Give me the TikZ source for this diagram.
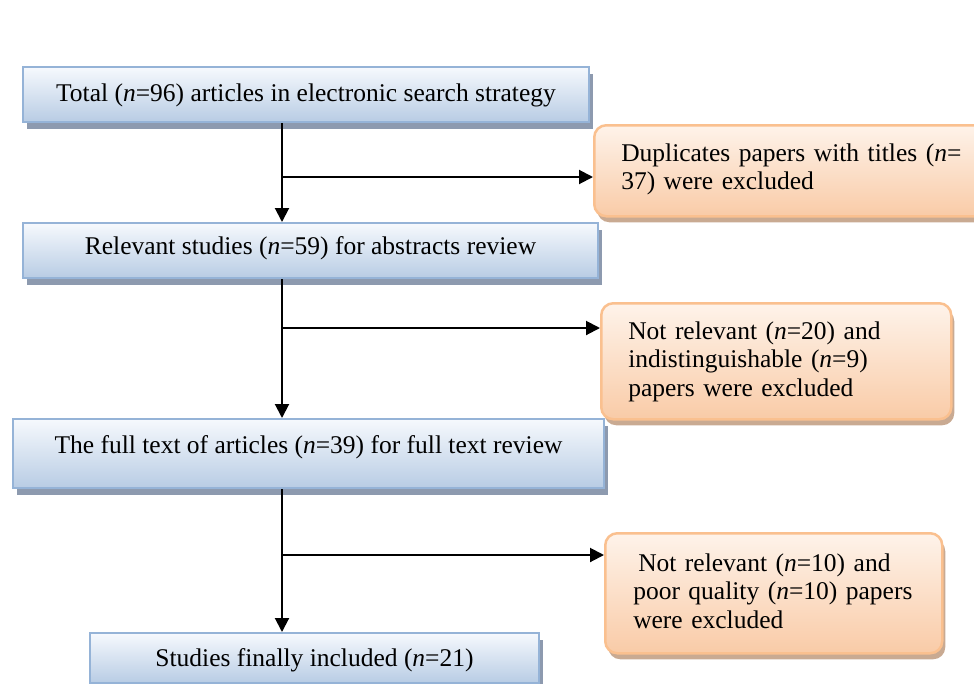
\documentclass[tikz,border=0pt]{standalone}
\usepackage{fontspec}
\setmainfont{Liberation Serif}
\usetikzlibrary{arrows.meta,shadows,calc}
\definecolor{blueborder}{HTML}{95B3D7}
\definecolor{bluetop}{HTML}{F6F9FD}
\definecolor{bluebot}{HTML}{B8CCE4}
\definecolor{blueshadow}{HTML}{8D9AAF}
\definecolor{orborder}{HTML}{FAC08F}
\definecolor{ortop}{HTML}{FEF3EA}
\definecolor{orbot}{HTML}{F9CBA7}
\definecolor{orshadow}{HTML}{C9AA92}
\begin{document}
\begin{tikzpicture}[x=1pt,y=-1pt,
  every node/.style={font=\fontsize{25.5pt}{28.5pt}\selectfont},
  bluebox/.style={draw=blueborder, line width=2pt, top color=bluetop, bottom color=bluebot,
    inner sep=0pt, anchor=north west,
    drop shadow={shadow xshift=4pt, shadow yshift=-7pt, fill=blueshadow, opacity=1}},
  orbox/.style={draw=orborder, line width=2.5pt, top color=ortop, bottom color=orbot,
    rounded corners=12pt, inner ysep=0pt, align=left, anchor=north west,
    drop shadow={shadow xshift=3pt, shadow yshift=-6pt, fill=orshadow, opacity=1}},
  flow/.style={line width=2pt, -{Triangle[length=14pt,width=14pt]}},
  spine/.style={line width=2pt}]
\useasboundingbox (0,0) rectangle (974,683);

\node[bluebox, minimum width=566pt, text height=34pt, text depth=21pt] (b1) at (22,66)
  {Total (\textit{n}=96) articles in electronic search strategy};
\node[bluebox, minimum width=575pt, text height=31pt, text depth=24pt] (b2) at (22,222)
  {Relevant studies (\textit{n}=59) for abstracts review};
\node[bluebox, minimum width=591pt, text height=34pt, text depth=35pt] (b3) at (12,418)
  {The full text of articles (\textit{n}=39) for full text review};
\node[bluebox, minimum width=449pt, text height=33pt, text depth=17pt] (b4) at (89,632)
  {Studies finally included (\textit{n}=21)};

\node[orbox, inner xsep=27pt, text width=341pt, text height=36pt, text depth=55pt] (o1) at (593,124)
  {Duplicates papers with titles (\textit{n}=\\37) were excluded};
\node[orbox, inner xsep=27pt, text width=296pt, text height=36pt, text depth=80pt] (o2) at (600,302)
  {Not relevant (\textit{n}=20) and\\indistinguishable (\textit{n}=9)\\papers were excluded};
\node[orbox, inner xsep=28pt, text width=281pt, text height=38pt, text depth=82pt] (o3) at (604,532)
  {\hspace*{5pt}Not relevant (\textit{n}=10) and\\poor quality (\textit{n}=10) papers\\were excluded};

\coordinate (c1) at (282,177);
\coordinate (c2) at (282,328);
\coordinate (c3) at (282,555);

\draw[flow] (b1.south -| c1) -- (b2.north -| c1);
\draw[flow] (c1) -- (c1 -| o1.west);
\draw[flow] (b2.south -| c2) -- (b3.north -| c2);
\draw[flow] (c2) -- (c2 -| o2.west);
\draw[flow] (b3.south -| c3) -- (b4.north -| c3);
\draw[flow] (c3) -- (c3 -| o3.west);
\end{tikzpicture}
\end{document}
